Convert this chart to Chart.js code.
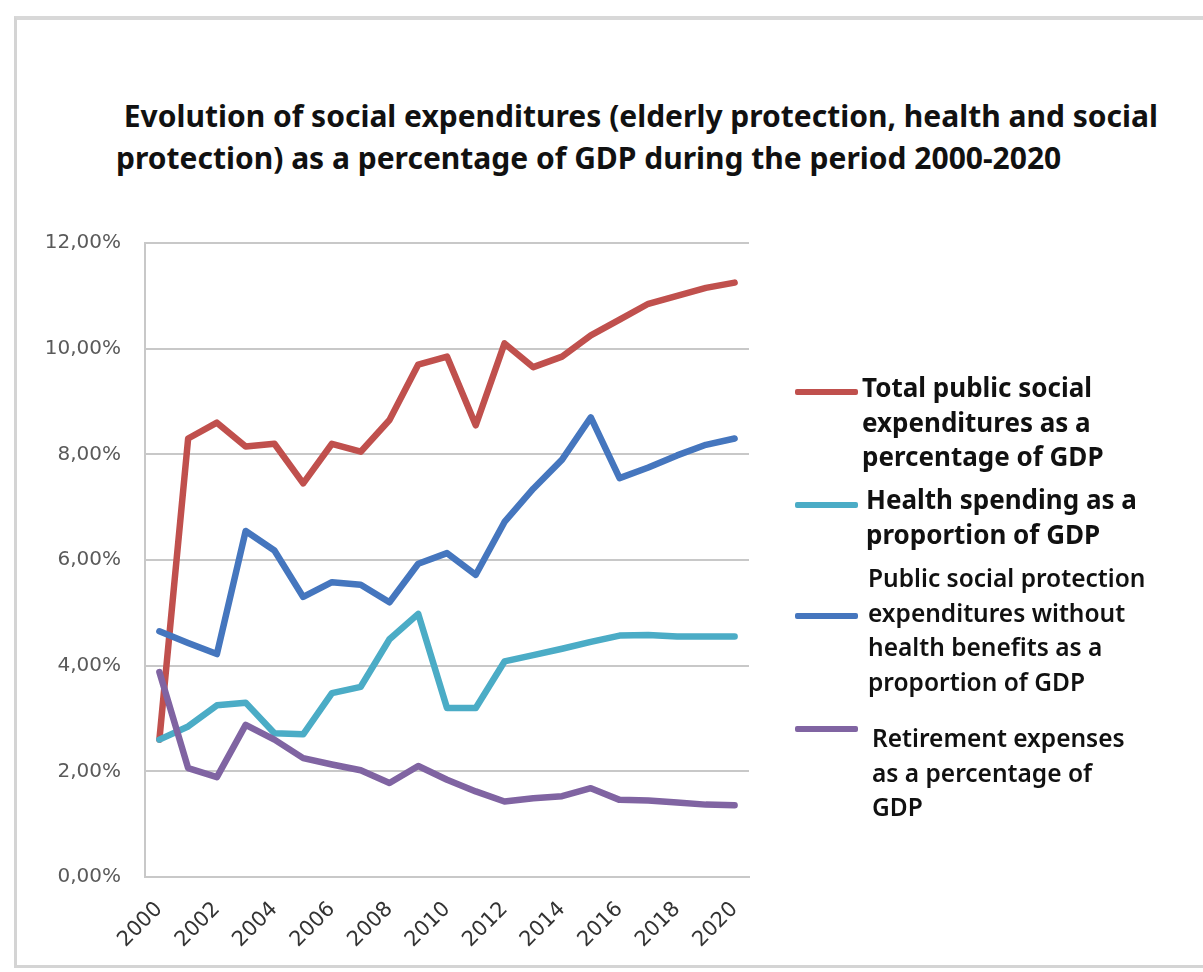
<!DOCTYPE html>
<html>
<head>
<meta charset="utf-8">
<script src="https://cdn.jsdelivr.net/npm/chart.js@4.4.1/dist/chart.umd.min.js"></script>
<style>
  html, body { margin: 0; padding: 0; background: #fff; }
  #wrap { position: relative; width: 1203px; height: 972px; overflow: hidden; }
  #frame {
    position: absolute; left: 14px; top: 16px; width: 1200px; height: 952px;
    border-left: 3px solid #d4d4d4; border-top: 4px solid #d8d8d8; border-bottom: 3px solid #d4d4d4;
    box-sizing: border-box;
  }
  #title {
    position: absolute; left: 116px; top: 95px; width: 1080px;
    font-family: "Noto Sans", sans-serif; font-weight: 700; font-size: 30px;
    line-height: 42px; color: #111; white-space: nowrap;
  }
  #chart { position: absolute; left: 0; top: 0; }
  .leg { position: absolute; font-family: "Noto Sans", sans-serif; font-weight: 700;
         font-size: 26px; line-height: 34.5px; color: #111; white-space: nowrap; }
  .leg.light { font-weight: 600; font-size: 24.5px; }
  .swatch { position: absolute; width: 63px; height: 6px; border-radius: 2px; }
</style>
</head>
<body>
<div id="wrap">
  <div id="frame"></div>
  <div id="title">&nbsp;Evolution of social expenditures (elderly protection, health and social<br>protection) as a percentage of GDP during the period 2000-2020</div>
  <canvas id="chart" width="1203" height="972"></canvas>
</div>
<script>
// categories
const years = ['2000', '2001', '2002', '2003', '2004', '2005', '2006', '2007', '2008', '2009', '2010',
               '2011', '2012', '2013', '2014', '2015', '2016', '2017', '2018', '2019', '2020'];

// series values, % of GDP
const totalSocial = [2.6, 8.3, 8.6, 8.15, 8.2, 7.45, 8.2, 8.05, 8.65, 9.7, 9.85,
                     8.55, 10.1, 9.65, 9.85, 10.25, 10.55, 10.85, 11.0, 11.15, 11.25];
const healthSpending = [2.6, 2.85, 3.25, 3.3, 2.72, 2.7, 3.48, 3.6, 4.5, 4.98, 3.2,
                        3.2, 4.08, 4.2, 4.32, 4.45, 4.57, 4.58, 4.55, 4.55, 4.55];
const protectionNoHealth = [4.65, 4.43, 4.22, 6.55, 6.18, 5.3, 5.58, 5.53, 5.2, 5.93, 6.13,
                            5.72, 6.72, 7.35, 7.9, 8.7, 7.55, 7.75, 7.98, 8.18, 8.3];
const retirement = [3.88, 2.06, 1.89, 2.88, 2.6, 2.25, 2.13, 2.02, 1.78, 2.1, 1.84,
                    1.62, 1.43, 1.49, 1.53, 1.68, 1.46, 1.45, 1.41, 1.37, 1.36];

// legend text, split the way the original wraps it
const labelTotal = ['Total public social', 'expenditures as a', 'percentage of GDP'];
const labelHealth = ['Health spending as a', 'proportion of GDP'];
const labelProtection = ['Public social protection', 'expenditures without', 'health benefits as a', 'proportion of GDP'];
const labelRetirement = ['Retirement expenses', 'as a percentage of', 'GDP'];

// y ticks
const yMin = 0, yMax = 12, yStep = 2;

const colRed = '#c0504d';
const colCyan = '#4bacc6';
const colBlue = '#4576be';
const colPurple = '#8064a2';

const series = [
  { lines: labelTotal, data: totalSocial, color: colRed, order: 4, leg: { sw: 392, tx: 862, ty: 370, light: false } },
  { lines: labelHealth, data: healthSpending, color: colCyan, order: 3, leg: { sw: 505, tx: 866, ty: 482, light: false } },
  { lines: labelProtection, data: protectionNoHealth, color: colBlue, order: 2, leg: { sw: 616, tx: 868, ty: 561, light: true } },
  { lines: labelRetirement, data: retirement, color: colPurple, order: 1, leg: { sw: 729, tx: 872, ty: 721, light: true } }
];

const gridColor = '#c8c8c8';

new Chart(document.getElementById('chart'), {
  type: 'line',
  data: {
    labels: years,
    datasets: series.map(s => ({
      label: s.lines.join(' '),
      data: s.data,
      borderColor: s.color,
      backgroundColor: s.color,
      borderWidth: 6.5,
      borderJoinStyle: 'round',
      borderCapStyle: 'round',
      pointRadius: 0,
      tension: 0,
      order: s.order
    }))
  },
  options: {
    responsive: false,
    animation: false,
    layout: { padding: { left: 0, right: 454, top: 243, bottom: 0 } },
    plugins: {
      legend: { display: false },
      title: { display: false },
      tooltip: { enabled: false }
    },
    scales: {
      x: {
        offset: true,
        grid: { display: false },
        border: { display: true, color: gridColor, width: 2 },
        ticks: {
          autoSkip: false,
          minRotation: 45,
          maxRotation: 45,
          padding: 12,
          color: '#333',
          font: { family: 'DejaVu Sans', size: 21 },
          callback: (v, i) => (i % 2 === 0 ? years[i] : '')
        },
        afterFit: scale => { scale.height = 95; }
      },
      y: {
        min: yMin,
        max: yMax,
        grid: { color: gridColor, lineWidth: 2, drawTicks: false },
        border: { display: true, color: gridColor, width: 2 },
        ticks: {
          stepSize: yStep,
          padding: 24,
          color: '#5a5a5a',
          font: { family: 'DejaVu Sans', size: 20 },
          callback: v => v.toFixed(2).replace('.', ',') + '%'
        },
        afterFit: scale => { scale.width = 145; }
      }
    }
  }
});

// HTML legend on the right, built from the series
const wrap = document.getElementById('wrap');
series.forEach(s => {
  const sw = document.createElement('div');
  sw.className = 'swatch';
  sw.style.left = '795px';
  sw.style.top = (s.leg.sw - 3) + 'px';
  sw.style.background = s.color;
  wrap.appendChild(sw);

  const tx = document.createElement('div');
  tx.className = s.leg.light ? 'leg light' : 'leg';
  tx.style.left = s.leg.tx + 'px';
  tx.style.top = s.leg.ty + 'px';
  tx.innerHTML = s.lines.join('<br>');
  wrap.appendChild(tx);
});
</script>
</body>
</html>
